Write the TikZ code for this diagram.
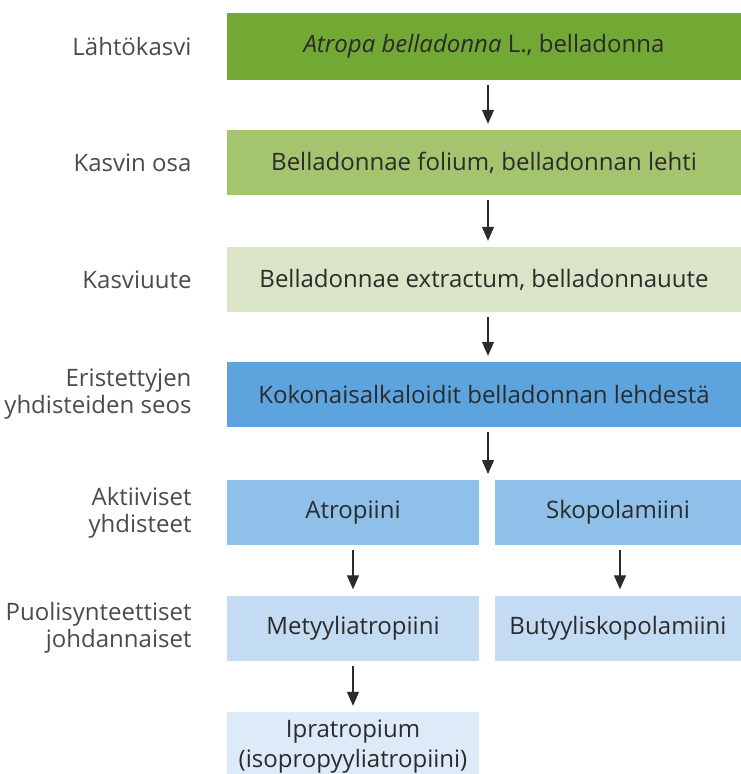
\documentclass[tikz,border=0pt]{standalone}
\usepackage{fontspec}
\setmainfont{Open Sans}
\usetikzlibrary{arrows.meta, positioning}
\definecolor{plantgreen}{HTML}{72A834}
\definecolor{partgreen}{HTML}{A4C46E}
\definecolor{extractgreen}{HTML}{DAE5C8}
\definecolor{mixblue}{HTML}{5DA4DF}
\definecolor{activeblue}{HTML}{8EC0EA}
\definecolor{semiblue}{HTML}{C3DCF3}
\definecolor{paleblue}{HTML}{DDEAF8}
\definecolor{txtgray}{HTML}{2B2B2B}

\begin{document}
\begin{tikzpicture}[x=1pt, y=-1pt, font=\fontsize{24}{27}\selectfont, text=txtgray]
  % Define styles
  \tikzstyle{stage} = [rectangle, inner sep=0pt, text centered, minimum height=65pt]
  \tikzstyle{wide} = [stage, minimum width=514pt]
  \tikzstyle{half} = [stage, minimum width=252pt, align=center]
  \tikzstyle{label} = [anchor=east, align=right, text=txtgray!85]
  \tikzstyle{arrow} = [draw=txtgray, line width=1.2pt, -{Triangle[length=14pt, width=12pt]}, shorten <=5pt, shorten >=6pt]

  \useasboundingbox (0,0) rectangle (741,774);
  \clip (0,0) rectangle (741,774);

  % Place nodes
  \node [wide, fill=plantgreen, minimum height=67pt] (plant) at (484,46.5) {\textit{Atropa belladonna} L., belladonna};
  \node [wide, fill=partgreen] (part) at (484,162.5) {Belladonnae folium, belladonnan lehti};
  \node [wide, fill=extractgreen] (extract) at (484,279.5) {Belladonnae extractum, belladonnauute};
  \node [wide, fill=mixblue] (mixture) at (484,394.5) {Kokonaisalkaloidit belladonnan lehdestä};
  \node [half, fill=activeblue] (atropine) at (353,512.5) {Atropiini};
  \node [half, fill=activeblue, minimum width=246pt] (scopolamine) at (618,512.5) {Skopolamiini};
  \node [half, fill=semiblue] (methyl) at (353,628) {Metyyliatropiini};
  \node [half, fill=semiblue, minimum width=246pt] (butyl) at (618,628) {Butyyliskopolamiini};
  \node [half, fill=paleblue, minimum height=70pt, font=\fontsize{24}{30}\selectfont] (ipra) at (353,747) {Ipratropium\\(isopropyyliatropiini)};

  \node [label] (lplant) at (195,46.5) {Lähtökasvi};
  \node [label] (lpart) at (195,162.5) {Kasvin osa};
  \node [label] (lextract) at (195,279.5) {Kasviuute};
  \node [label] (lmixture) at (195,394.5) {Eristettyjen\\yhdisteiden seos};
  \node [label] (lactive) at (195,512.5) {Aktiiviset\\yhdisteet};
  \node [label] (lsemi) at (195,628) {Puolisynteettiset\\johdannaiset};

  % Draw edges
  \coordinate (split) at (488,480);
  \path [arrow] ([xshift=4pt]plant.south) -- ([xshift=4pt]part.north);
  \path [arrow] ([xshift=4pt]part.south) -- ([xshift=4pt]extract.north);
  \path [arrow] ([xshift=4pt]extract.south) -- ([xshift=4pt]mixture.north);
  \path [arrow] ([xshift=4pt]mixture.south) -- (split);
  \path [arrow] (atropine) -- (methyl);
  \path [arrow] ([xshift=2pt]scopolamine.south) -- ([xshift=2pt]butyl.north);
  \path [arrow] (methyl) -- (ipra);
\end{tikzpicture}
\end{document}
